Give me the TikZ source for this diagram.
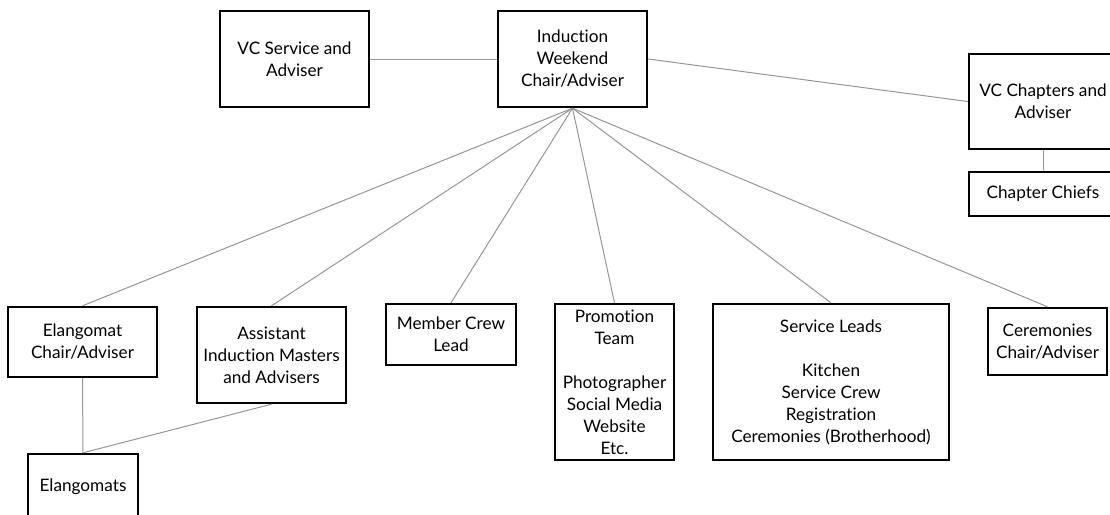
\documentclass[tikz,border=0pt]{standalone}
\usepackage{fontspec}
\setmainfont{Lato}[Ligatures={NoCommon,NoRare}]
\definecolor{conn}{RGB}{150,150,150}
\tikzset{
  orgbox/.style={draw=black, line width=2.4pt, align=center, inner sep=0pt,
    font=\fontsize{17.2pt}{22pt}\selectfont},
  link/.style={draw=conn, line width=1pt}
}
\begin{document}
\begin{tikzpicture}[x=1pt,y=-1pt]
\clip (0,0) rectangle (1110,514);
\node[orgbox, minimum width=149pt, minimum height=96pt] (vcs) at (294.5,59) {VC Service and\\Adviser};
\node[orgbox, minimum width=149pt, minimum height=96pt] (ind) at (572.5,59) {Induction\\Weekend\\Chair/Adviser};
\node[orgbox, minimum width=148pt, minimum height=95pt] (vcc) at (1043,101.5) {VC Chapters and\\Adviser};
\node[orgbox, minimum width=148pt, minimum height=44pt] (cc) at (1043,194) {Chapter Chiefs};
\node[orgbox, minimum width=149pt, minimum height=70pt] (ec) at (82.5,342) {Elangomat\\Chair/Adviser};
\node[orgbox, minimum width=149pt, minimum height=96pt] (aim) at (271.5,355) {Assistant\\Induction Masters\\and Advisers};
\node[orgbox, minimum width=110pt, minimum height=66pt] (els) at (83,487) {Elangomats};
\node[orgbox, minimum width=130pt, minimum height=61pt] (mcl) at (451,334.5) {Member Crew\\Lead};
\node[orgbox, minimum width=119pt, minimum height=156pt] (pt) at (614.5,382) {Promotion\\Team\\[22pt]Photographer\\Social Media\\Website\\Etc.};
\node[orgbox, minimum width=236pt, minimum height=156pt] (sl) at (831,382) {Service Leads\\[22pt]Kitchen\\Service Crew\\Registration\\Ceremonies (Brotherhood)};
\node[orgbox, minimum width=119pt, minimum height=67pt] (cer) at (1047.5,341.5) {Ceremonies\\Chair/Adviser};
\draw[link] (vcs.east) -- (ind.west);
\draw[link] (ind.east) -- (vcc.west);
\draw[link] (vcc.south) -- (cc.north);
\draw[link] (ind.south) -- (ec.north);
\draw[link] (ind.south) -- (aim.north);
\draw[link] (ind.south) -- (mcl.north);
\draw[link] (ind.south) -- (pt.north);
\draw[link] (ind.south) -- (sl.north);
\draw[link] (ind.south) -- (cer.north);
\draw[link] (ec.south) -- (els.north);
\draw[link] (aim.south) -- (els.north);
\end{tikzpicture}
\end{document}
